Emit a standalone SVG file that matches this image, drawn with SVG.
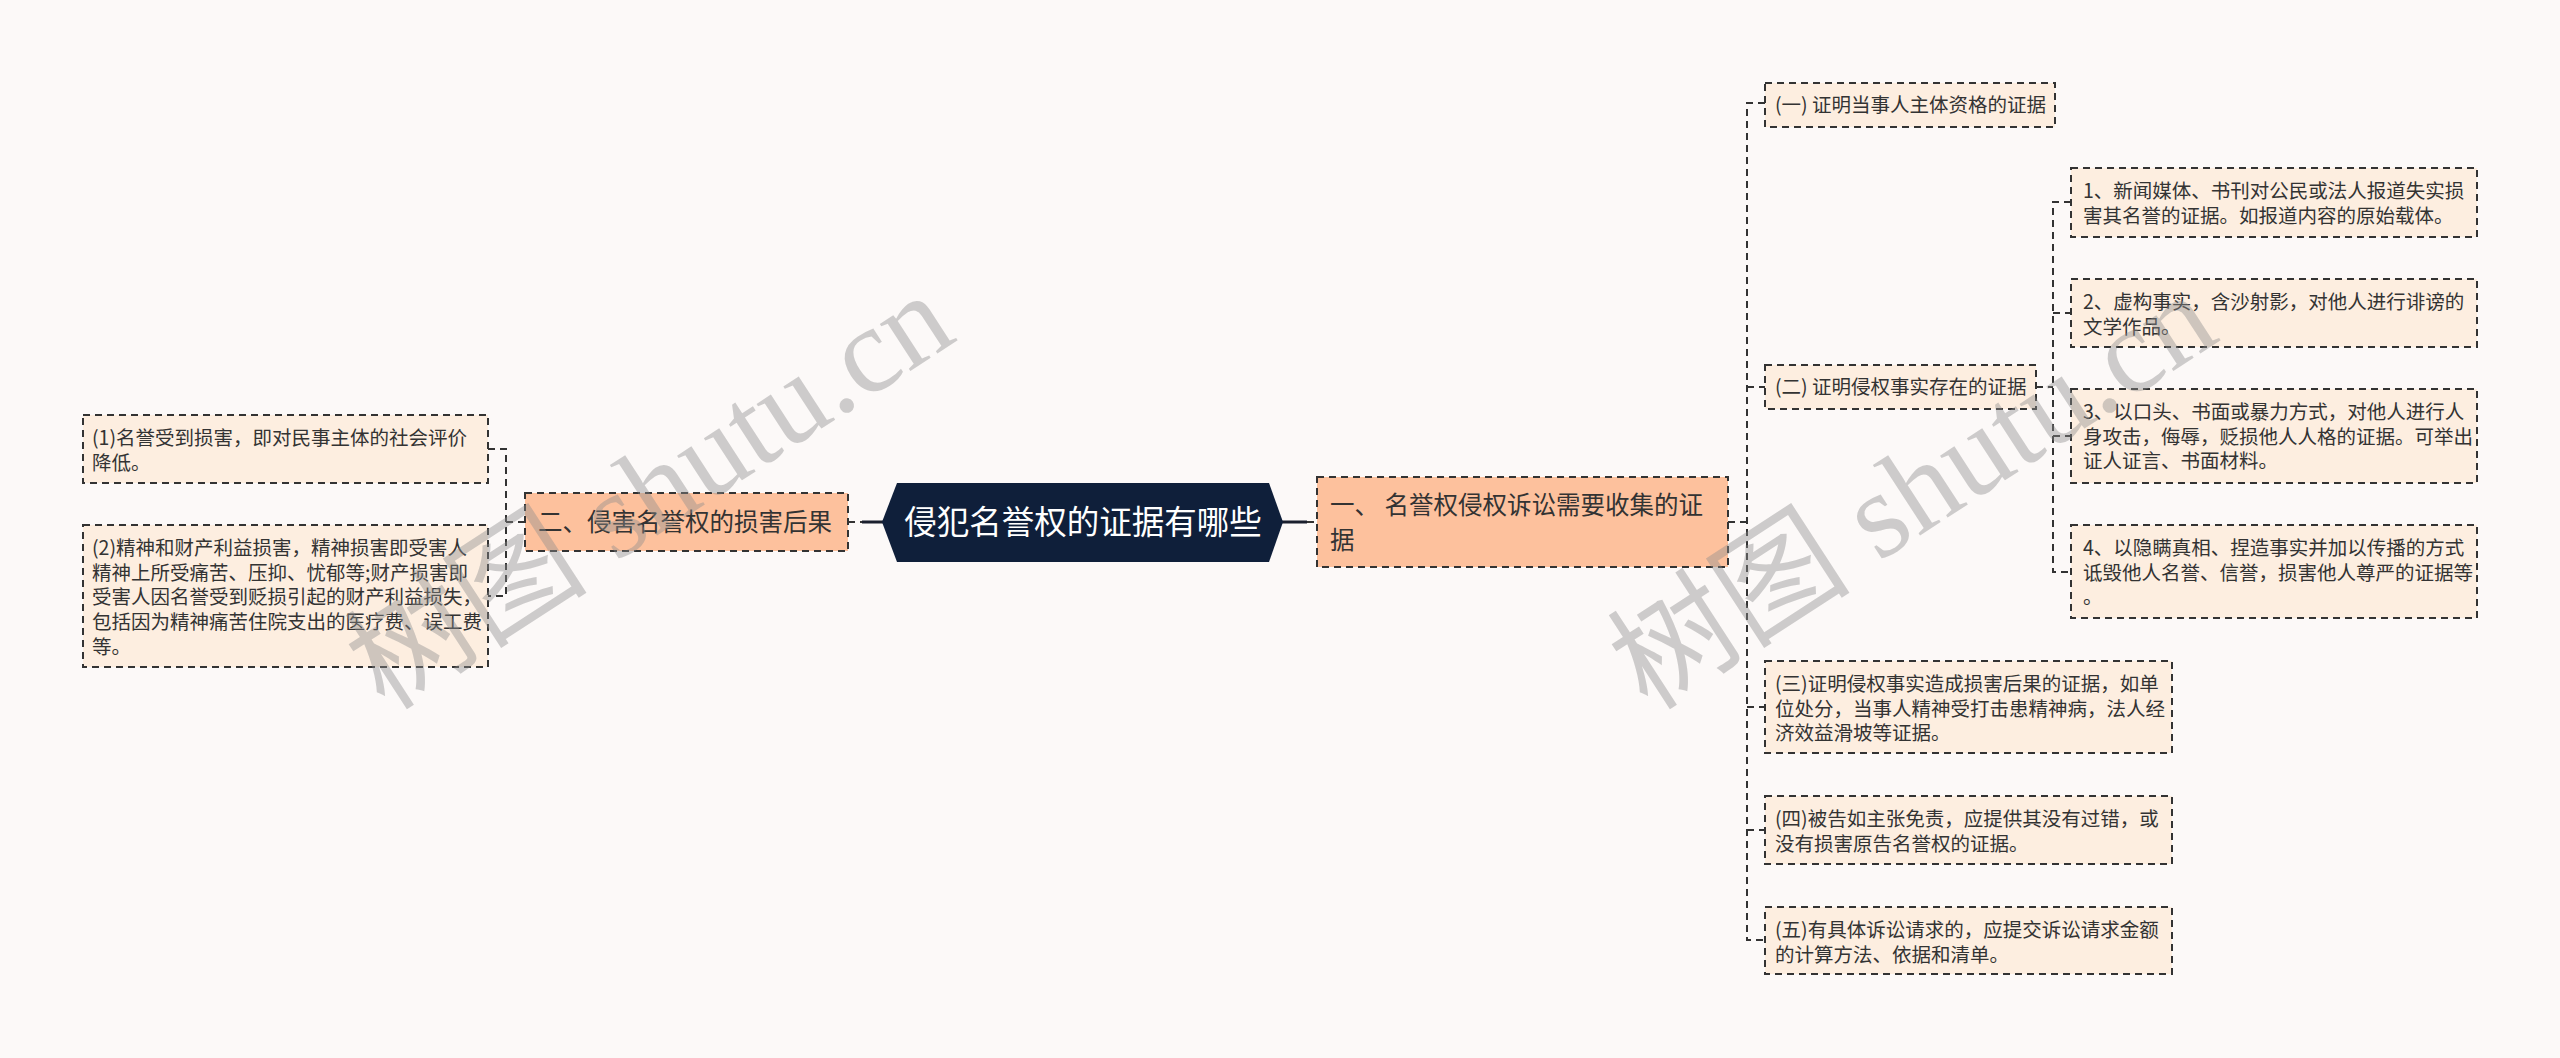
<svg xmlns="http://www.w3.org/2000/svg" width="2560" height="1058" viewBox="0 0 2560 1058">
<style>
.bg{fill:#fcf9f8}
.leaf{fill:#fdeee0;stroke:#333;stroke-width:2;stroke-dasharray:7 5}
.lvl1{fill:#fdc19d;stroke:#333;stroke-width:2;stroke-dasharray:7 5}
.root{fill:#0f1f3a}
.t{font-family:"Noto Sans CJK SC","Microsoft YaHei",sans-serif;fill:#333}
.ts{font-size:19.5px}
.tm{font-size:24.5px}
.tr{font-size:32.5px;fill:#ffffff}
.dash{fill:none;stroke:#333;stroke-width:2;stroke-dasharray:7 5}
.solid{fill:none;stroke:#1a1f2e;stroke-width:3}
.wm{font-family:"Liberation Serif","Noto Sans CJK SC",serif;font-size:122px;fill:#8c8c8c;fill-opacity:0.42}
</style>
<rect class="bg" x="0" y="0" width="2560" height="1058"/>

<g id="connectors">
  <path class="dash" d="M848,522 H862"/>
  <path class="solid" d="M862,522 H883"/>
  <path class="solid" d="M1282,522 H1307"/>
  <path class="dash" d="M1307,522 H1317"/>
  <path class="dash" d="M525,522 H506"/>
  <path class="dash" d="M488,449 H506 V596 H488"/>
  <path class="dash" d="M1728,522 H1747"/>
  <path class="dash" d="M1765,103 H1747 V940 H1765"/>
  <path class="dash" d="M1747,387 H1765"/>
  <path class="dash" d="M1747,707 H1765"/>
  <path class="dash" d="M1747,830 H1765"/>
  <path class="dash" d="M2036,387 H2053"/>
  <path class="dash" d="M2071,202 H2053 V572 H2071"/>
  <path class="dash" d="M2053,313 H2071"/>
  <path class="dash" d="M2053,436 H2071"/>
</g>

<g id="root">
  <polygon class="root" points="882,522 897,483 1269,483 1283,522 1269,562 897,562"/>
  <text class="t tr" x="1083" y="534" text-anchor="middle">侵犯名誉权的证据有哪些</text>
</g>

<g id="n-er">
  <rect class="lvl1" x="525" y="493" width="323" height="58"/>
  <text class="t tm" x="538" y="531">二、侵害名誉权的损害后果</text>
</g>

<g id="n-l1">
  <rect class="leaf" x="83" y="415" width="405" height="68"/>
  <text class="t ts" x="92" y="445">(1)名誉受到损害，即对民事主体的社会评价<tspan x="92" dy="24.7">降低。</tspan></text>
</g>

<g id="n-l2">
  <rect class="leaf" x="83" y="525" width="405" height="142"/>
  <text class="t ts" x="92" y="555">(2)精神和财产利益损害，精神损害即受害人<tspan x="92" dy="24.7">精神上所受痛苦、压抑、忧郁等;财产损害即</tspan><tspan x="92" dy="24.7">受害人因名誉受到贬损引起的财产利益损失，</tspan><tspan x="92" dy="24.7">包括因为精神痛苦住院支出的医疗费、误工费</tspan><tspan x="92" dy="24.7">等。</tspan></text>
</g>

<g id="n-yi">
  <rect class="lvl1" x="1317" y="477" width="411" height="90"/>
  <text class="t tm" x="1330" y="514">一、 名誉权侵权诉讼需要收集的证<tspan x="1330" dy="35">据</tspan></text>
</g>

<g id="n-a">
  <rect class="leaf" x="1765" y="83" width="290" height="44"/>
  <text class="t ts" x="1775" y="112">(一) 证明当事人主体资格的证据</text>
</g>

<g id="n-b">
  <rect class="leaf" x="1765" y="365" width="271" height="44"/>
  <text class="t ts" x="1775" y="394">(二) 证明侵权事实存在的证据</text>
</g>

<g id="n-b1">
  <rect class="leaf" x="2071" y="168" width="406" height="69"/>
  <text class="t ts" x="2083" y="198">1、新闻媒体、书刊对公民或法人报道失实损<tspan x="2083" dy="24.7">害其名誉的证据。如报道内容的原始载体。</tspan></text>
</g>

<g id="n-b2">
  <rect class="leaf" x="2071" y="279" width="406" height="68"/>
  <text class="t ts" x="2083" y="309">2、虚构事实，含沙射影，对他人进行诽谤的<tspan x="2083" dy="24.7">文学作品。</tspan></text>
</g>

<g id="n-b3">
  <rect class="leaf" x="2071" y="389" width="406" height="94"/>
  <text class="t ts" x="2083" y="419">3、以口头、书面或暴力方式，对他人进行人<tspan x="2083" dy="24.7">身攻击，侮辱，贬损他人人格的证据。可举出</tspan><tspan x="2083" dy="24.7">证人证言、书面材料。</tspan></text>
</g>

<g id="n-b4">
  <rect class="leaf" x="2071" y="525" width="406" height="93"/>
  <text class="t ts" x="2083" y="555">4、以隐瞒真相、捏造事实并加以传播的方式<tspan x="2083" dy="24.7">诋毁他人名誉、信誉，损害他人尊严的证据等</tspan><tspan x="2083" dy="24.7">。</tspan></text>
</g>

<g id="n-c">
  <rect class="leaf" x="1765" y="661" width="407" height="92"/>
  <text class="t ts" x="1775" y="691">(三)证明侵权事实造成损害后果的证据，如单<tspan x="1775" dy="24.7">位处分，当事人精神受打击患精神病，法人经</tspan><tspan x="1775" dy="24.7">济效益滑坡等证据。</tspan></text>
</g>

<g id="n-d">
  <rect class="leaf" x="1765" y="796" width="407" height="68"/>
  <text class="t ts" x="1775" y="826">(四)被告如主张免责，应提供其没有过错，或<tspan x="1775" dy="24.7">没有损害原告名誉权的证据。</tspan></text>
</g>

<g id="n-e">
  <rect class="leaf" x="1765" y="907" width="407" height="67"/>
  <text class="t ts" x="1775" y="937">(五)有具体诉讼请求的，应提交诉讼请求金额<tspan x="1775" dy="24.7">的计算方法、依据和清单。</tspan></text>
</g>

<g id="watermarks">
  <text class="wm" transform="translate(385,712) rotate(-33)">树图 shutu.cn</text>
  <text class="wm" transform="translate(1648,712) rotate(-33)">树图 shutu.cn</text>
</g>
</svg>
